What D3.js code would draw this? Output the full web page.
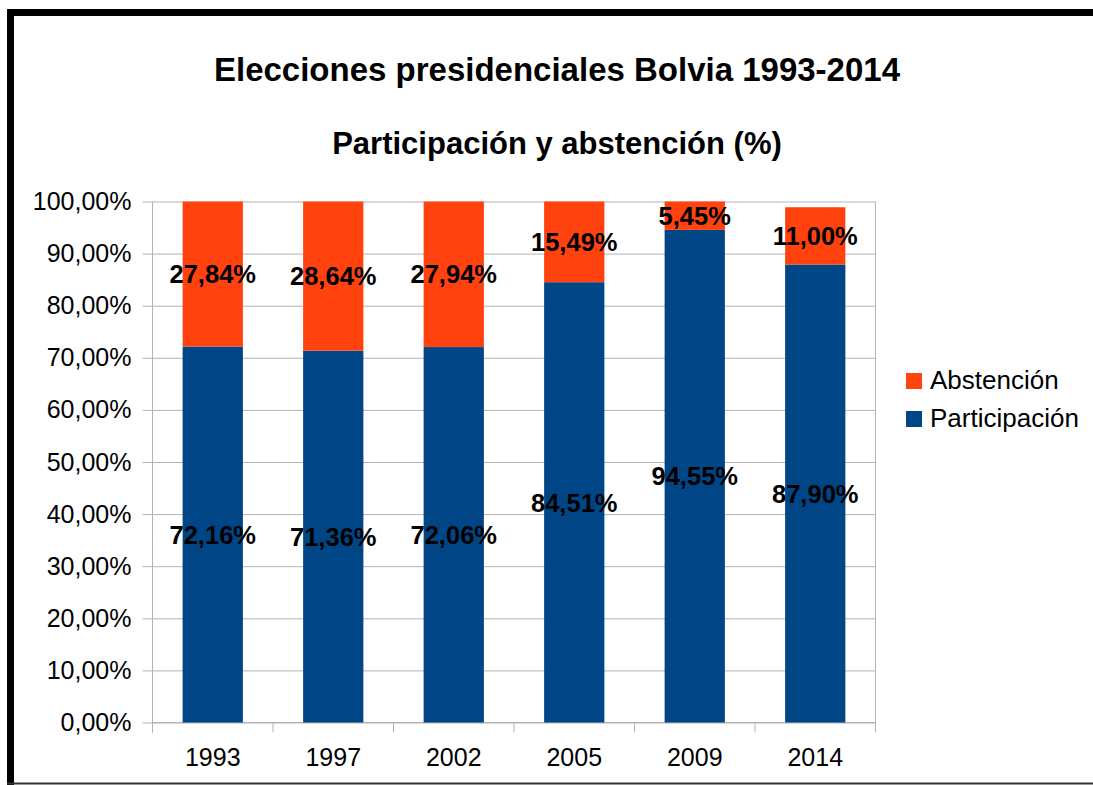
<!DOCTYPE html>
<html>
<head>
<meta charset="utf-8">
<script src="https://cdn.jsdelivr.net/npm/d3@7"></script>
<style>
  body { margin:0; background:#fff; }
  text { font-family:"Liberation Sans", Arial, sans-serif; }
</style>
</head>
<body>
<div id="canvas"></div>
<script>
// data
var years = ['1993','1997','2002','2005','2009','2014'];
var participacion = [72.16, 71.36, 72.06, 84.51, 94.55, 87.90];
var abstencion = [27.84, 28.64, 27.94, 15.49, 5.45, 11.00];
var yTicks = [0,10,20,30,40,50,60,70,80,90,100];
var seriesNames = ['Abstención','Participación'];
var colors = {'Participación':'#004586','Abstención':'#ff420e'};

var W = 1093, H = 785;
var m = {t:201.5, r:W-875.5, b:H-722.5, l:152.5},
    w = W - m.l - m.r,
    h = H - m.t - m.b;

var svg = d3.select('#canvas').append('svg')
    .attr('width', W)
    .attr('height', H);

// outer frame
svg.append('rect').attr('x',7).attr('y',9).attr('width',7).attr('height',776).attr('fill','#000');
svg.append('rect').attr('x',7).attr('y',9).attr('width',W-7).attr('height',7).attr('fill','#000');
svg.append('rect').attr('x',7).attr('y',782.5).attr('width',W-7).attr('height',2).attr('fill','#333');

// titles
svg.append('text').attr('x',557).attr('y',80.5)
    .attr('text-anchor','middle').style('font-size','33px').style('font-weight','bold')
    .text('Elecciones presidenciales Bolvia 1993-2014');
svg.append('text').attr('x',557).attr('y',153.5)
    .attr('text-anchor','middle').style('font-size','31px').style('font-weight','bold')
    .text('Participación y abstención (%)');

var plot = svg.append('g')
    .attr('transform','translate('+m.l+','+m.t+')');

var scaleY = d3.scaleLinear().domain([0,100]).range([h,0]);
var scaleX = d3.scaleBand().domain(years).range([0,w]).paddingInner(0.5).paddingOuter(0.25);

// gridlines + y labels
var fmt = function(v){ return d3.format('.2f')(v).replace('.',',') + '%'; };
var yAxis = d3.axisLeft(scaleY).tickValues(yTicks).tickSize(-w-10).tickPadding(10).tickFormat(fmt);
var gy = plot.append('g').attr('transform','translate(-10,0)').call(yAxis);
gy.select('.domain').remove();
gy.selectAll('line').attr('stroke','#b3b3b3').attr('x1', 0).attr('x2', w+10);
gy.selectAll('text').style('font-size','25px').attr('fill','#000').attr('x',-11).attr('font-family',null);

// left axis line and right border
plot.append('line').attr('x1',0).attr('x2',0).attr('y1',0).attr('y2',h+10).attr('stroke','#b3b3b3');
plot.append('line').attr('x1',w).attr('x2',w).attr('y1',0).attr('y2',h).attr('stroke','#b3b3b3');

// x axis
plot.append('line').attr('x1',0).attr('x2',w).attr('y1',h).attr('y2',h).attr('stroke','#b3b3b3');
plot.selectAll('.xtick').data(d3.range(years.length+1)).enter()
    .append('line')
    .attr('x1', function(i){ return i*w/years.length; })
    .attr('x2', function(i){ return i*w/years.length; })
    .attr('y1', h).attr('y2', h+10)
    .attr('stroke','#b3b3b3');
plot.selectAll('.xlab').data(years).enter()
    .append('text')
    .attr('x', function(d){ return scaleX(d)+scaleX.bandwidth()/2; })
    .attr('y', h+43)
    .attr('text-anchor','middle')
    .style('font-size','25px')
    .text(function(d){ return d; });

// stacked bars
var rows = years.map(function(y,i){ return {year:y, 'Participación':participacion[i], 'Abstención':abstencion[i]}; });
var stack = d3.stack().keys(['Participación','Abstención'])(rows);

var layers = plot.selectAll('.layer').data(stack).enter()
    .append('g').attr('fill', function(d){ return colors[d.key]; });

layers.selectAll('rect').data(function(d){ return d; }).enter()
    .append('rect')
    .attr('x', function(d){ return scaleX(d.data.year); })
    .attr('width', scaleX.bandwidth())
    .attr('y', function(d){ return scaleY(d[1]); })
    .attr('height', function(d){ return scaleY(d[0]) - scaleY(d[1]); });

// value labels
stack.forEach(function(s){
    plot.selectAll('.lab-'+s.index).data(s).enter()
        .append('text')
        .attr('x', function(d){ return scaleX(d.data.year)+scaleX.bandwidth()/2; })
        .attr('y', function(d){ return scaleY((d[0]+d[1])/2); })
        .attr('dy','0.36em')
        .attr('text-anchor','middle')
        .style('font-size','25.5px').style('font-weight','bold')
        .text(function(d){ return fmt(d.data[s.key]); });
});

// legend
var legend = svg.append('g').attr('transform','translate(906,373)');
seriesNames.forEach(function(name,i){
    legend.append('rect').attr('x',0).attr('y',i*38).attr('width',16).attr('height',16).attr('fill',colors[name]);
    legend.append('text').attr('x',24).attr('y',i*38+16).style('font-size','26px').text(name);
});
</script>
</body>
</html>
